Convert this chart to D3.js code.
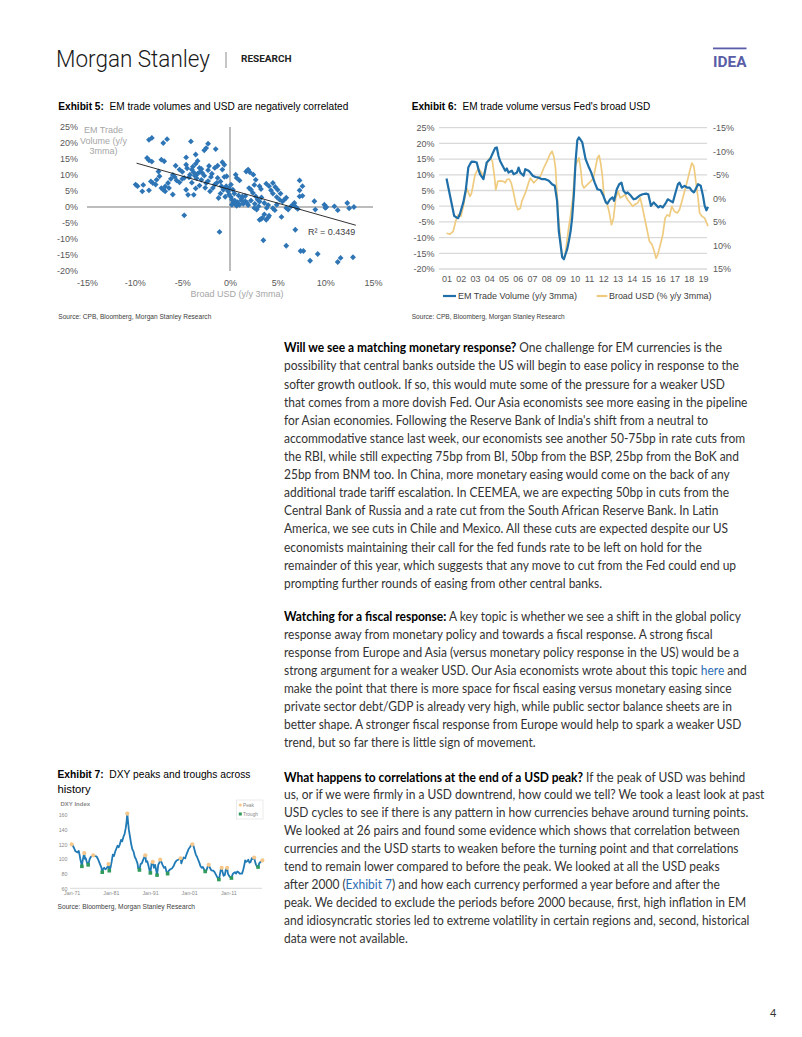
<!DOCTYPE html>
<html><head><meta charset="utf-8">
<script src="https://cdn.jsdelivr.net/npm/d3@7"></script>
<style>body{margin:0;background:#fff}svg{display:block}text{white-space:pre}</style>
</head><body>
<svg id="page" width="802" height="1037"></svg>
<script>
// ---------------- DATA ----------------
// Exhibit 5: scatter, x = Broad USD (y/y 3mma, %), y = EM trade volume (y/y 3mma, %)
const usdChange = [-8.5,-8.2,-6.6,-7.0,-4.1,-2.3,-2.5,-2.7,-1.5,-3.6,-4.6,-8.7,-8.5,-8.2,-7.2,-6.9,-5.7,-5.3,-4.6,-4.5,
 -4.0,-3.6,-3.4,-3.2,-3.1,-2.9,-3.8,-4.2,-3.7,-3.4,-2.7,-2.3,-2.0,-1.6,-1.3,-0.8,-0.6,-0.8,-9.9,-9.7,
 -9.1,-9.2,-8.5,-8.1,-7.8,-7.7,-7.5,-7.2,-7.0,-6.8,-6.5,-6.4,-6.2,-6.0,-5.8,-5.6,-5.3,-5.0,-4.8,-4.6,
 -4.4,-3.8,-3.6,-3.2,-3.0,-2.5,-2.3,-2.1,-1.8,-1.6,-1.4,-1.3,-1.0,-0.9,-0.7,-0.6,-0.35,-0.4,-1.2,-4.8,
 -1.1,-0.2,-0.1,0.1,0.2,0.35,0.55,0.8,1.0,1.2,1.4,1.6,1.8,0.2,0.7,-0.1,0.1,0.3,0.45,0.6,
 0.7,1.0,-0.4,1.3,1.7,1.9,2.1,2.45,2.7,3.1,3.25,3.8,4.1,4.3,4.5,4.9,5.2,5.5,2.4,2.7,
 2.9,3.1,3.6,4.0,2.0,2.2,2.55,3.1,3.25,3.4,3.8,4.0,4.1,3.6,4.5,4.75,5.0,5.3,5.7,5.9,
 5.9,6.1,6.4,6.6,6.75,6.9,7.1,7.3,7.3,7.3,7.6,7.6,5.4,4.9,2.55,2.8,3.0,3.85,4.5,4.7,
 8.85,8.95,9.9,10.0,10.1,10.95,11.3,12.3,12.5,13.0,6.85,3.5,5.9,7.4,7.7,8.4,9.2,11.3,11.6,12.9,
 1.2,1.6,2.2,2.6,0.9,3.3,1.9,-3.9,-3.0,-2.2,-4.3,-3.5,-1.9,-5.0,-6.0,-7.4,-8.3,-6.8,-4.0,-1.0,
 -0.5,0.5,-2.6];
const emTrade = [21.0,21.6,21.2,20.0,20.5,19.8,18.4,17.7,18.1,16.4,15.5,15.3,14.6,14.2,14.8,14.3,12.9,11.7,13.2,12.1,
 11.7,13.5,14.4,12.2,11.1,10.6,10.8,10.1,9.8,10.4,9.8,11.5,9.4,12.2,12.9,14.0,13.2,11.7,7.0,6.5,
 6.9,4.9,5.2,7.5,7.0,8.5,11.1,5.9,5.4,4.9,7.5,5.9,8.8,3.9,9.4,8.3,7.7,8.8,9.1,5.4,
 3.8,3.8,5.8,6.7,8.5,7.5,8.1,4.9,5.9,7.0,7.5,9.1,8.0,6.5,5.4,9.4,9.6,5.9,2.8,-2.6,
 -7.8,4.9,3.9,3.1,2.3,1.5,0.9,1.5,0.7,2.1,1.0,1.8,1.25,0.7,0.4,5.9,7.0,5.4,4.2,10.1,
 9.1,8.3,6.5,3.3,11.1,11.7,10.8,10.1,8.5,6.5,5.6,7.3,6.5,5.2,4.2,3.1,2.3,1.7,4.4,3.3,
 2.3,1.7,1.25,0.6,5.9,5.4,6.9,-4.0,-3.75,-3.4,-4.0,-3.3,-2.7,-2.3,7.5,6.25,5.4,4.2,2.3,2.9,
 -0.3,-0.8,0.2,0.7,1.25,0.0,-0.6,3.3,5.2,8.3,6.5,3.5,-3.1,0.7,-0.3,-0.8,0.2,-0.3,-0.4,-1.0,
 1.8,-0.8,0.7,-0.3,0.0,0.2,-1.0,1.25,-0.4,0.0,-7.1,-10.4,-12.1,-13.75,-13.75,-16.8,-14.7,-17.2,-15.9,-15.7,
 2.6,3.4,2.0,1.0,3.6,3.0,0.6,12.6,11.9,12.8,9.3,9.0,10.4,11.0,10.0,9.6,8.0,6.4,7.6,4.2,
 3.2,2.0,6.0];
const trendX = [-9.8, 13.2];
const trendY = [13.7, -5.7];
const scatterXTicks = [-15,-10,-5,0,5,10,15];
const scatterYTicks = [-20,-15,-10,-5,0,5,10,15,20,25];

// Exhibit 6: time series (decimal years)
const emDates = [2001.00,2001.54,2001.71,2001.82,2001.94,2002.18,2002.36,2002.53,2002.65,2002.76,2003.00,2003.12,2003.24,2003.35,2003.59,2003.71,2003.82,2004.06,2004.22,2004.41,2004.53,2004.65,2004.76,2005.00,2005.12,2005.24,2005.35,2005.59,2005.71,2005.94,2006.06,2006.18,2006.41,2006.53,2006.76,2006.88,2007.05,2007.24,2007.47,2007.71,2007.94,2008.18,2008.41,2008.60,2008.76,2008.88,2009.00,2009.12,2009.24,2009.35,2009.47,2009.59,2009.71,2009.82,2009.94,2010.06,2010.18,2010.29,
 2010.53,2010.76,2011.00,2011.16,2011.40,2011.59,2011.82,2012.01,2012.18,2012.29,2012.48,2012.65,2012.76,2012.95,2013.12,2013.28,2013.42,2013.59,2013.71,2013.94,2014.13,2014.29,2014.53,2014.76,2015.00,2015.16,2015.35,2015.54,2015.71,2015.87,2016.01,2016.18,2016.36,2016.53,2016.72,2016.88,2017.04,2017.24,2017.35,2017.52,2017.71,2017.89,2018.06,2018.22,2018.36,2018.45,2018.65,2018.84,2019.00,2019.12,2019.24,2019.35];
const emValues = [8.8,-3.1,-3.6,-3.8,-2.5,1.2,5.4,12.3,13.4,14.2,14.1,13.9,11.8,10.2,8.6,11.3,13.9,15.0,16.6,18.5,18.7,16.0,14.4,12.3,11.3,12.0,10.7,11.3,10.2,10.7,12.3,10.7,9.7,11.8,11.3,10.7,9.7,9.3,9.1,8.6,8.6,8.1,7.0,6.5,1.7,-7.9,-12.1,-16.3,-16.9,-15.3,-13.7,-11.0,-7.9,-3.6,3.8,14.4,21.0,21.9,
 20.3,15.0,12.3,10.7,7.5,5.4,5.1,3.3,1.2,0.8,2.2,2.8,1.7,5.4,7.0,7.5,4.9,4.0,4.4,3.3,2.2,2.4,3.3,3.8,4.0,3.8,0.1,1.2,0.4,-0.4,0.1,-0.4,0.8,2.2,1.7,1.2,3.8,7.0,7.5,5.9,6.5,5.9,5.9,4.9,4.4,5.1,7.0,6.5,3.3,0.1,-1.3,-0.2];
const usdDates = [2001.00,2001.24,2001.47,2001.64,2001.82,2002.01,2002.18,2002.41,2002.65,2002.76,2003.00,2003.24,2003.42,2003.59,2003.75,2003.94,2004.06,2004.22,2004.36,2004.46,2004.60,2004.76,2005.00,2005.12,2005.24,2005.40,2005.54,2005.71,2005.87,2006.01,2006.18,2006.29,2006.53,2006.76,2006.88,2007.12,2007.35,2007.59,2007.82,2008.06,2008.25,2008.41,2008.53,2008.65,2008.76,2008.84,2008.95,2009.07,2009.16,2009.31,2009.42,2009.54,2009.71,2009.87,2010.01,
 2010.06,2010.29,2010.41,2010.53,2010.65,2010.88,2011.12,2011.31,2011.40,2011.59,2011.71,2011.82,2011.94,2012.06,2012.25,2012.41,2012.58,2012.72,2012.88,2013.05,2013.19,2013.35,2013.52,2013.71,2013.89,2014.06,2014.22,2014.41,2014.60,2014.76,2015.00,2015.24,2015.42,2015.54,2015.71,2015.82,2016.01,2016.18,2016.34,2016.48,2016.65,2016.81,2017.00,2017.19,2017.35,2017.52,2017.71,2017.89,2018.06,2018.22,2018.36,2018.48,2018.65,2018.76,2018.93,2019.12,2019.35];
const usdValues = [7.4,7.6,7.0,4.9,3.5,3.8,1.7,-2.2,-0.4,-1.1,-5.0,-6.4,-5.6,-4.7,-6.4,-8.2,-8.6,-7.9,-4.7,-1.8,-3.6,-3.7,-3.6,-3.3,-4.0,-4.1,-3.3,-1.1,1.3,2.4,2.1,0.6,-1.1,-3.3,-4.3,-3.3,-4.0,-4.7,-6.4,-7.9,-9.3,-10.0,-8.9,-6.4,-0.8,3.5,7.0,11.2,12.7,12.3,9.8,7.0,3.5,-0.1,-6.4,
 -7.1,-8.6,-6.4,-2.9,-2.2,-2.9,-3.6,-4.3,-5.7,-8.6,-9.1,-7.5,-4.7,-0.1,1.0,2.8,5.6,4.2,-0.1,-1.5,-0.1,-0.4,-0.8,0.3,1.0,1.7,1.3,1.0,-0.1,2.1,5.6,9.1,9.8,10.9,12.7,12.0,9.8,7.7,4.2,3.5,3.8,1.7,2.8,3.1,2.4,0.6,-1.5,-3.6,-5.7,-7.5,-6.8,-4.0,-0.1,3.1,3.8,4.2,5.9];
const leftTicks = [-20,-15,-10,-5,0,5,10,15,20,25];
const rightTicks = [-15,-10,-5,0,5,10,15];
const yearTicks = [2001,2002,2003,2004,2005,2006,2007,2008,2009,2010,2011,2012,2013,2014,2015,2016,2017,2018,2019];
const yearLabels = ["01","02","03","04","05","06","07","08","09","10","11","12","13","14","15","16","17","18","19"];

// Exhibit 7: DXY index
const dxyDates = [1971.0,1971.3,1971.6,1971.9,1972.2,1972.5,1972.8,1973.0,1973.2,1973.4,1973.6,1973.8,1974.0,1974.2,1974.4,1974.6,1974.8,1975.0,1975.2,1975.4,1975.6,1975.9,1976.2,1976.5,1976.8,1977.1,1977.4,1977.7,1978.0,1978.3,1978.6,1978.8,1979.0,1979.3,1979.6,1979.9,1980.2,1980.4,1980.6,1980.9,
 1981.2,1981.5,1981.8,1982.1,1982.4,1982.7,1983.0,1983.3,1983.6,1983.9,1984.2,1984.5,1984.8,1985.0,1985.2,1985.4,1985.6,1985.9,1986.2,1986.5,1986.8,1987.1,1987.4,1987.8,1988.0,1988.3,1988.6,1988.9,1989.2,1989.5,1989.8,1990.0,1990.3,1990.6,1990.9,1991.1,1991.4,1991.7,1992.0,1992.3,1992.6,1992.8,
 1993.1,1993.4,1993.6,1993.9,1994.2,1994.6,1994.9,1995.2,1995.5,1995.8,1996.2,1996.6,1997.0,1997.4,1997.8,1998.2,1998.6,1998.8,1999.0,1999.3,1999.6,2000.0,2000.3,2000.6,2000.9,2001.2,2001.5,2001.8,2002.1,2002.4,2002.7,2003.0,2003.3,2003.6,2003.9,2004.2,2004.5,2004.8,2005.1,2005.4,2005.7,2006.0,
 2006.3,2006.6,2006.9,2007.2,2007.5,2007.8,2008.1,2008.4,2008.6,2008.9,2009.1,2009.3,2009.5,2009.8,2010.1,2010.4,2010.7,2010.9,2011.2,2011.5,2011.8,2012.1,2012.4,2012.7,2013.0,2013.3,2013.6,2013.9,2014.2,2014.5,2014.8,2015.1,2015.3,2015.5,2015.8,2016.1,2016.4,2016.7,2017.0,2017.3,2017.6,2017.9,2018.1,2018.3,2018.6,2018.9,2019.2,2019.5,2019.7];
const dxyValues = [120,118,115,111,110,109,111,106,100,95,90,98,103,108,100,101,97,94,92,96,100,103,104,105,104,104,103,100,96,92,88,82,86,88,86,87,90,93,84,88,
 96,106,104,110,114,118,116,120,126,124,130,134,142,150,162,150,140,130,120,113,110,103,100,94,87,85,93,94,98,102,105,96,97,91,84,81,94,96,88,92,84,78,
 92,95,99,96,92,88,89,83,80,84,86,87,90,95,98,99,100,101,94,99,102,101,106,110,114,116,119,120,118,112,106,103,99,95,90,88,89,86,83,84,89,92,
 88,85,84,84,82,79,76,73,72,80,86,88,83,77,78,86,88,80,77,75,74,79,81,82,80,83,82,80,80,80,85,92,98,96,97,99,95,96,101,100,102,95,92,90,89,94,96,97,98];
const peakDates = [1971.0,1974.2,1976.5,1980.4,1985.2,1989.8,1991.7,1993.6,1998.8,2001.8,2006.0,2009.3,2010.7,2017.6,2019.7];
const peakValues = [120,108,105,93,162,105,96,99,101,120,92,88,88,102,98];
const troughDates = [1973.6,1975.2,1978.8,1980.6,1988.3,1991.1,1992.8,1995.5,2005.1,2008.6,2011.8,2018.6];
const troughValues = [90,92,82,84,85,81,78,80,83,72,74,89];
const dxyYTicks = [60,80,100,120,140,160];
const dxyXTicks = [1971,1981,1991,2001,2011];
const dxyXLabels = ["Jan-71","Jan-81","Jan-91","Jan-01","Jan-11"];

// Body text
const para1 = [
 "**Will we see a matching monetary response?** One challenge for EM currencies is the",
 "possibility that central banks outside the US will begin to ease policy in response to the",
 "softer growth outlook. If so, this would mute some of the pressure for a weaker USD",
 "that comes from a more dovish Fed. Our Asia economists see more easing in the pipeline",
 "for Asian economies. Following the Reserve Bank of India's shift from a neutral to",
 "accommodative stance last week, our economists see another 50-75bp in rate cuts from",
 "the RBI, while still expecting 75bp from BI, 50bp from the BSP, 25bp from the BoK and",
 "25bp from BNM too. In China, more monetary easing would come on the back of any",
 "additional trade tariff escalation. In CEEMEA, we are expecting 50bp in cuts from the",
 "Central Bank of Russia and a rate cut from the South African Reserve Bank. In Latin",
 "America, we see cuts in Chile and Mexico. All these cuts are expected despite our US",
 "economists maintaining their call for the fed funds rate to be left on hold for the",
 "remainder of this year, which suggests that any move to cut from the Fed could end up",
 "prompting further rounds of easing from other central banks."];
const para2 = [
 "**Watching for a fiscal response:** A key topic is whether we see a shift in the global policy",
 "response away from monetary policy and towards a fiscal response. A strong fiscal",
 "response from Europe and Asia (versus monetary policy response in the US) would be a",
 "strong argument for a weaker USD. Our Asia economists wrote about this topic [here] and",
 "make the point that there is more space for fiscal easing versus monetary easing since",
 "private sector debt/GDP is already very high, while public sector balance sheets are in",
 "better shape. A stronger fiscal response from Europe would help to spark a weaker USD",
 "trend, but so far there is little sign of movement."];
const para3 = [
 "**What happens to correlations at the end of a USD peak?** If the peak of USD was behind",
 "us, or if we were firmly in a USD downtrend, how could we tell? We took a least look at past",
 "USD cycles to see if there is any pattern in how currencies behave around turning points.",
 "We looked at 26 pairs and found some evidence which shows that correlation between",
 "currencies and the USD starts to weaken before the turning point and that correlations",
 "tend to remain lower compared to before the peak. We looked at all the USD peaks",
 "after 2000 ([Exhibit 7]) and how each currency performed a year before and after the",
 "peak. We decided to exclude the periods before 2000 because, first, high inflation in EM",
 "and idiosyncratic stories led to extreme volatility in certain regions and, second, historical",
 "data were not available."];

// ---------------- DRAWING ----------------
const svg = d3.select("#page");
const ARIAL = "'Liberation Sans', Arial, Helvetica, sans-serif";
const BODY = "Lato, 'Open Sans', sans-serif";
const TICK = "#595959", GREY = "#a6a6a6";

function txt(x, y, s, o = {}) {
  const t = svg.append("text").attr("x", x).attr("y", y)
    .attr("font-family", o.ff || ARIAL).attr("font-size", o.fs || 9)
    .attr("fill", o.fill || "#000").attr("text-anchor", o.anchor || "start");
  if (o.fw) t.attr("font-weight", o.fw);
  if (o.len) t.attr("textLength", o.len).attr("lengthAdjust", "spacingAndGlyphs");
  t.text(s);
  return t;
}
function title(x, y, bold, rest, len, fs) {
  const t = svg.append("text").attr("x", x).attr("y", y).attr("font-family", ARIAL)
    .attr("font-size", fs || 10.3).attr("fill", "#000");
  t.append("tspan").attr("font-weight", 700).text(bold);
  t.append("tspan").text(rest);
  if (len) t.attr("textLength", len).attr("lengthAdjust", "spacingAndGlyphs");
  return t;
}

// Header
txt(56, 66.7, "Morgan Stanley", {ff: "Roboto, 'Liberation Sans', sans-serif", fw: 300, fs: 24.5, fill: "#1a1a1a", len: 154});
svg.append("line").attr("x1", 226).attr("x2", 226).attr("y1", 52).attr("y2", 68).attr("stroke", "#8c8c8c").attr("stroke-width", 1);
txt(241, 61.7, "RESEARCH", {ff: "Roboto, 'Liberation Sans', sans-serif", fw: 700, fs: 8.5, fill: "#222", len: 50.5});
svg.append("rect").attr("x", 713).attr("y", 47.5).attr("width", 33.5).attr("height", 1.8).attr("fill", "#5a5ea8");
txt(713, 67.3, "IDEA", {ff: "Roboto, 'Liberation Sans', sans-serif", fw: 700, fs: 14.5, fill: "#5a5ea8", len: 33.5});

// ---------- Exhibit 5 ----------
title(58.3, 109.5, "Exhibit 5:", "  EM trade volumes and USD are negatively correlated", 290);
const sx = d3.scaleLinear().domain([-15, 15]).range([87, 373]);
const sy = d3.scaleLinear().domain([-20, 25]).range([271, 127]);
const gx5 = svg.append("g").attr("transform", "translate(0,279.8)")
  .call(d3.axisBottom(sx).tickValues(scatterXTicks).tickFormat(d => d + "%").tickSize(0).tickPadding(0));
const gy5 = svg.append("g").attr("transform", "translate(78,0)")
  .call(d3.axisLeft(sy).tickValues(scatterYTicks).tickFormat(d => d + "%").tickSize(0).tickPadding(0));
[gx5, gy5].forEach(g => { g.select(".domain").remove(); g.selectAll("text").attr("font-family", ARIAL).attr("font-size", 9).attr("fill", TICK); });
svg.append("line").attr("x1", sx(-15)).attr("x2", sx(15)).attr("y1", sy(0)).attr("y2", sy(0)).attr("stroke", GREY).attr("stroke-width", 1.5);
svg.append("line").attr("x1", sx(0)).attr("x2", sx(0)).attr("y1", sy(25)).attr("y2", sy(-20)).attr("stroke", GREY).attr("stroke-width", 1.5);
const lbl = svg.append("text").attr("font-family", ARIAL).attr("font-size", 9).attr("fill", GREY).attr("text-anchor", "middle");
["EM Trade", "Volume (y/y", "3mma)"].forEach((s, i) => lbl.append("tspan").attr("x", 103.5).attr("y", 133.2 + i * 10.4).text(s));
txt(237, 297, "Broad USD (y/y 3mma)", {fs: 9, fill: GREY, anchor: "middle"});
const diamond = d3.symbol().type(d3.symbolSquare).size(17)();
svg.append("g").selectAll("path").data(usdChange.map((v, i) => [v, emTrade[i]])).join("path")
  .attr("d", diamond).attr("fill", "#2e75b6")
  .attr("transform", d => `translate(${sx(d[0])},${sy(d[1])}) rotate(45)`);
svg.append("path").datum(trendX.map((v, i) => [v, trendY[i]]))
  .attr("d", d3.line().x(d => sx(d[0])).y(d => sy(d[1])))
  .attr("stroke", "#1a1a1a").attr("stroke-width", 0.9).attr("fill", "none");
svg.append("text").attr("x", 308).attr("y", 235.3).attr("font-family", ARIAL).attr("font-size", 9).attr("fill", "#404040").text("R² = 0.4349");
txt(58.3, 318.5, "Source: CPB, Bloomberg, Morgan Stanley Research", {fs: 6.5, fill: "#404040", len: 153});

// ---------- Exhibit 6 ----------
title(411.7, 109.5, "Exhibit 6:", "  EM trade volume versus Fed's broad USD", 238.5);
const tx = d3.scaleLinear().domain([2001, 2019]).range([446.5, 703]);
const ly = d3.scaleLinear().domain([-20, 25]).range([269, 127.7]);
const ry = d3.scaleLinear().domain([-15, 15]).range([127.7, 269]);
svg.append("g").selectAll("line").data(leftTicks).join("line")
  .attr("x1", 439).attr("x2", 707).attr("y1", d => ly(d)).attr("y2", d => ly(d))
  .attr("stroke", "#d9d9d9").attr("stroke-width", 1.3);
const gl6 = svg.append("g").attr("transform", "translate(434.5,0)")
  .call(d3.axisLeft(ly).tickValues(leftTicks).tickFormat(d => d + "%").tickSize(0).tickPadding(0));
const gr6 = svg.append("g").attr("transform", "translate(713,0)")
  .call(d3.axisRight(ry).tickValues(rightTicks).tickFormat(d => d + "%").tickSize(0).tickPadding(0));
const gb6 = svg.append("g").attr("transform", "translate(0,276)")
  .call(d3.axisBottom(tx).tickValues(yearTicks).tickFormat((d, i) => yearLabels[i]).tickSize(0).tickPadding(0));
[gl6, gr6, gb6].forEach(g => { g.select(".domain").remove(); g.selectAll("text").attr("font-family", ARIAL).attr("font-size", 9).attr("fill", TICK); });
svg.append("path").datum(usdDates.map((d, i) => [d, usdValues[i]]))
  .attr("d", d3.line().x(d => tx(d[0])).y(d => ry(d[1])))
  .attr("fill", "none").attr("stroke", "#efcb80").attr("stroke-width", 1.7).attr("stroke-linejoin", "round");
svg.append("path").datum(emDates.map((d, i) => [d, emValues[i]]))
  .attr("d", d3.line().x(d => tx(d[0])).y(d => ly(d[1])))
  .attr("fill", "none").attr("stroke", "#1f6fa9").attr("stroke-width", 2.2).attr("stroke-linejoin", "round");
svg.append("line").attr("x1", 443).attr("x2", 456).attr("y1", 296).attr("y2", 296).attr("stroke", "#1f6fa9").attr("stroke-width", 2.2);
txt(458, 299.2, "EM Trade Volume (y/y 3mma)", {fs: 9, fill: "#404040", len: 119});
svg.append("line").attr("x1", 596.7).attr("x2", 607.3).attr("y1", 296).attr("y2", 296).attr("stroke", "#efcb80").attr("stroke-width", 2.2);
txt(609, 299.2, "Broad USD (% y/y 3mma)", {fs: 9, fill: "#404040", len: 102.5});
txt(411.7, 318.5, "Source: CPB, Bloomberg, Morgan Stanley Research", {fs: 6.5, fill: "#404040", len: 153});

// ---------- Exhibit 7 ----------
title(57.5, 778, "Exhibit 7:", "  DXY peaks and troughs across", 193, 11.3);
txt(57.5, 792.5, "history", {fs: 11.3, fill: "#000"});
const dx = d3.scaleLinear().domain([1971, 2011]).range([71.7, 228.3]);
const dy = d3.scaleLinear().domain([60, 160]).range([888.3, 815]);
svg.append("line").attr("x1", 70).attr("x2", 262).attr("y1", dy(60)).attr("y2", dy(60)).attr("stroke", "#d0d0d0").attr("stroke-width", 0.8);
const gl7 = svg.append("g").attr("transform", "translate(67.5,0)")
  .call(d3.axisLeft(dy).tickValues(dxyYTicks).tickSize(0).tickPadding(0));
const gb7 = svg.append("g").attr("transform", "translate(0,891.5)")
  .call(d3.axisBottom(dx).tickValues(dxyXTicks).tickFormat((d, i) => dxyXLabels[i]).tickSize(0).tickPadding(0));
[gl7, gb7].forEach(g => { g.select(".domain").remove(); g.selectAll("text").attr("font-family", ARIAL).attr("font-size", 5.3).attr("fill", "#8a8a8a"); });
txt(60.5, 806, "DXY Index", {fs: 6, fw: 700, fill: "#8a8a8a"});
svg.append("path").datum(dxyDates.map((d, i) => [d, dxyValues[i]]))
  .attr("d", d3.line().x(d => dx(d[0])).y(d => dy(d[1])))
  .attr("fill", "none").attr("stroke", "#1f7ab5").attr("stroke-width", 1.8).attr("stroke-linejoin", "round");
svg.append("g").selectAll("rect").data(troughDates.map((d, i) => [d, troughValues[i]])).join("rect")
  .attr("x", d => dx(d[0]) - 1.8).attr("y", d => dy(d[1]) - 1.8).attr("width", 3.6).attr("height", 3.6).attr("fill", "#2f9a5c");
svg.append("g").selectAll("circle").data(peakDates.map((d, i) => [d, peakValues[i]])).join("circle")
  .attr("cx", d => dx(d[0])).attr("cy", d => dy(d[1])).attr("r", 2.1).attr("fill", "#f6c78a");
svg.append("rect").attr("x", 236.5).attr("y", 800).attr("width", 26.5).attr("height", 19).attr("fill", "#fff").attr("stroke", "#dcdcdc").attr("stroke-width", 0.6);
svg.append("circle").attr("cx", 240.3).attr("cy", 805).attr("r", 1.5).attr("fill", "#f6c78a");
txt(243, 806.8, "Peak", {fs: 4.8, fill: "#8a8a8a"});
svg.append("rect").attr("x", 238.8).attr("y", 812.5).attr("width", 3).attr("height", 3).attr("fill", "#2f9a5c");
txt(243, 815.8, "Trough", {fs: 4.8, fill: "#8a8a8a"});
txt(57.5, 908.5, "Source: Bloomberg, Morgan Stanley Research", {fs: 6.5, fill: "#404040", len: 137.5});

// ---------- Body text ----------
const probe = svg.append("text").attr("font-family", BODY).attr("font-size", 13).text(para1[1]);
const natural = probe.node().getComputedTextLength();
probe.remove();
const squeeze = natural > 0 ? 455 / natural : 1;
function para(lines, x, y0, lh) {
  const g = svg.append("g").attr("transform", `translate(${x},${y0}) scale(${squeeze},1)`);
  lines.forEach((ln, i) => {
    const t = g.append("text").attr("x", 0).attr("y", i * lh).attr("font-family", BODY)
      .attr("font-size", 13).attr("fill", "#333");
    ln.split(/(\*\*[^*]+\*\*|\[[^\]]+\])/).filter(s => s).forEach(s => {
      if (s.startsWith("**")) t.append("tspan").attr("font-weight", 700).attr("fill", "#000").text(s.slice(2, -2));
      else if (s.startsWith("[")) t.append("tspan").attr("fill", "#2b6cb3").text(s.slice(1, -1));
      else t.append("tspan").text(s);
    });
  });
}
para(para1, 284, 352.3, 18.12);
para(para2, 284, 620.7, 18.09);
para(para3, 284, 781.5, 18.0);

txt(770, 1017, "4", {ff: BODY, fs: 11, fill: "#333"});
</script>
</body></html>
